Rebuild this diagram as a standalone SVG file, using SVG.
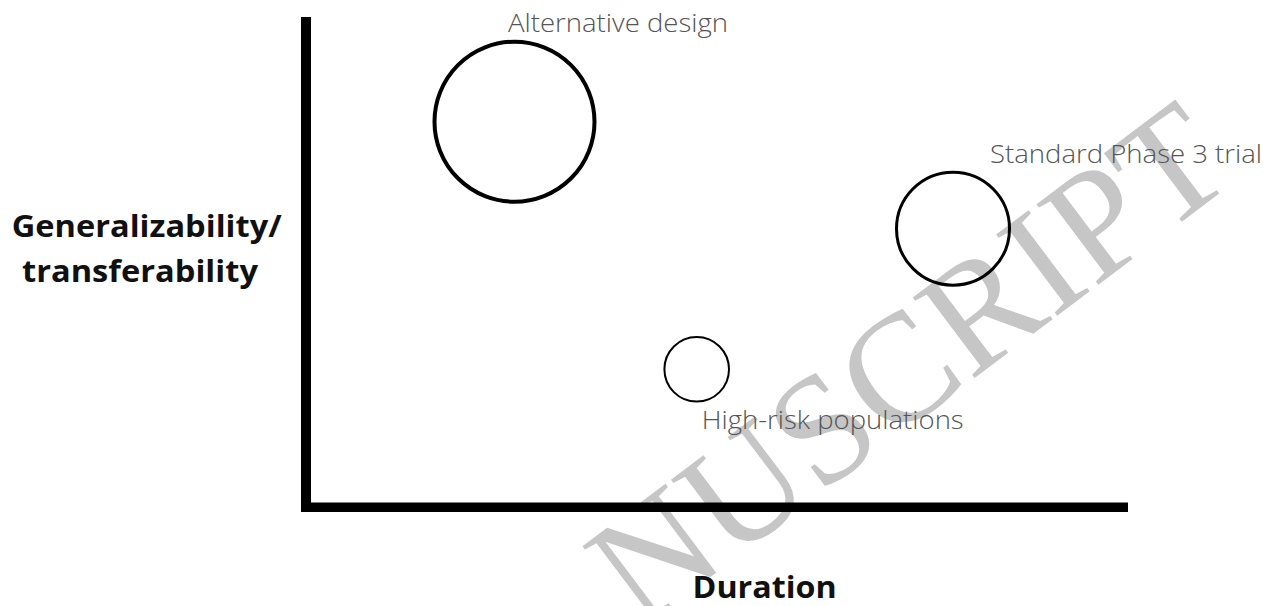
<svg xmlns="http://www.w3.org/2000/svg" width="1276" height="606" viewBox="0 0 1276 606">
<style>
.wm{font-family:"Liberation Serif",serif;font-size:155px;fill:#c6c6c6}
.lbl{font-family:"Open Sans","Liberation Sans",sans-serif;font-weight:300;font-size:26px;fill:#555}
.ax{font-family:"Open Sans","Liberation Sans",sans-serif;font-weight:700;font-size:31px;fill:#111}
.bub{fill:none;stroke:#000}
</style>
<rect width="1276" height="606" fill="#fff"/>
<g id="watermark">
<text class="wm" transform="translate(640,630) rotate(-37)">NUSCRIPT</text>
</g>
<g id="axes">
<rect x="301" y="17" width="10" height="495" fill="#000"/>
<rect x="301" y="502.5" width="827" height="9.5" fill="#000"/>
</g>
<g id="y-label">
<text class="ax" x="11.7" y="236.7" textLength="270" lengthAdjust="spacingAndGlyphs">Generalizability/</text>
<text class="ax" x="22" y="281.7" textLength="236" lengthAdjust="spacingAndGlyphs">transferability</text>
</g>
<g id="x-label">
<text class="ax" x="692.6" y="598.3" textLength="144" lengthAdjust="spacingAndGlyphs">Duration</text>
</g>
<g id="alternative-design">
<circle class="bub" cx="514.5" cy="121.7" r="80" stroke-width="4"/>
<text class="lbl" x="508" y="32.3" textLength="220" lengthAdjust="spacingAndGlyphs">Alternative design</text>
</g>
<g id="standard-phase3">
<circle class="bub" cx="953" cy="228.7" r="56.5" stroke-width="3"/>
<text class="lbl" x="990" y="163.3" textLength="272" lengthAdjust="spacingAndGlyphs">Standard Phase 3 trial</text>
</g>
<g id="high-risk">
<circle class="bub" cx="696.7" cy="369.3" r="32.3" stroke-width="2"/>
<text class="lbl" x="701.7" y="429.3" textLength="262" lengthAdjust="spacingAndGlyphs">High-risk populations</text>
</g>
<g id="connectors"/>
</svg>
